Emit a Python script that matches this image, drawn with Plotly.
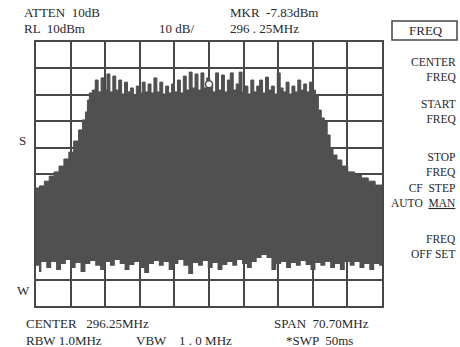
import plotly.graph_objects as go

# ---- instrument settings ----
freq_start = 260.9      # MHz
freq_stop = 331.6       # MHz
freq_per_div = 7.07     # MHz/div
ref_level = 10          # dBm
db_per_div = 10         # dB/div

# ---- upper envelope of the trace (peak) ----
upper_freq = [260.9, 261.6, 262.6, 263.6, 264.6, 265.6, 266.6, 267.6, 268.6, 269.6, 270.4, 271.0, 271.4, 271.8,
              272.4, 273.0, 273.6, 274.2, 274.8, 275.4, 276.0, 276.6, 277.2, 277.8, 278.4, 279.0, 279.6, 280.2,
              280.8, 281.4, 282.0, 282.6, 283.2, 283.8, 284.4, 285.0, 285.6, 286.2, 286.8, 287.4, 288.0, 288.6,
              289.2, 289.8, 290.4, 291.0, 291.6, 292.2, 292.8, 293.4, 294.0, 294.6, 295.2, 295.8, 296.4, 297.0,
              297.6, 298.2, 298.8, 299.4, 300.0, 300.6, 301.2, 301.8, 302.4, 303.0, 303.6, 304.2, 304.8, 305.4,
              306.0, 306.6, 307.2, 307.8, 308.4, 309.0, 309.6, 310.2, 310.8, 311.4, 312.0, 312.6, 313.2, 313.8,
              314.4, 315.0, 315.6, 316.2, 316.8, 317.4, 318.0,
              318.6, 319.2, 319.8, 320.4, 321.0, 321.6, 322.4, 323.4, 324.6, 326.0, 327.4, 328.8, 330.2, 331.6]
upper_dbm = [-45.3, -44.5, -42.7, -40.8, -39.2, -37.0, -34.3, -31.7, -27.5, -23.3, -19.5, -16.5, -12.0, -9.3,
             -8.2, -4.4, -8.9, -3.6, -8.2, -2.1, -8.9, -2.9, -8.2, -4.4,
             -9.7, -5.2, -8.9, -7.4, -10.1, -6.7, -9.3, -5.2, -8.9, -5.9,
             -9.3, -3.6, -8.9, -5.2, -9.7, -6.7, -9.3, -5.9, -8.9, -4.4,
             -9.3, -2.9, -8.2, -1.4, -7.4, -2.1, -8.2, -1.7, -7.4, -3.6,
             -5.9, -8.9, -1.7, -8.2, -2.5, -8.9, -4.4, -1.7, -8.2, -5.9,
             -1.4, -8.9, -6.7, -9.7, -4.4, -8.9, -6.7, -4.4, -9.3, -3.3,
             -8.2, -6.7, -9.7, -1.7, -7.4, -8.9, -5.2, -9.7, -6.7, -8.9,
             -4.4, -8.2, -5.9, -8.9, -5.2, -8.2, -10.5,
             -15.8, -18.8, -20.3, -25.2, -30.2, -32.8, -34.7, -37.0, -39.2, -40.4, -41.5, -42.7, -44.2, -46.1]

# ---- lower envelope of the trace (noise floor minima) ----
lower_freq = [260.9, 261.5, 262.0, 263.0, 264.0, 265.0, 266.0, 267.0, 268.0, 269.0, 270.0, 271.0, 272.0, 273.0,
              274.0, 275.0, 276.0, 277.0, 278.0, 279.0, 280.0, 281.0, 282.0, 283.0, 284.0, 285.0, 286.0, 287.0,
              288.0, 289.0, 290.0, 291.0, 292.0, 293.0, 294.0, 295.0, 296.0, 297.0, 298.0, 299.0, 300.0, 301.0,
              302.0, 303.0, 304.0, 305.0, 306.0, 307.0, 308.0, 309.0, 310.0, 311.0, 312.0, 313.0, 314.0, 315.0,
              316.0, 317.0, 318.0, 319.0, 320.0, 321.0, 322.0, 323.0, 324.0, 325.0, 326.0, 327.0, 328.0, 329.0,
              330.0, 331.0, 331.6]
lower_dbm = [-74.8, -77.1, -73.3, -75.6, -73.3, -76.4, -74.1, -72.6, -75.6, -73.7, -77.1, -74.1, -73.0, -74.8,
             -76.4, -73.3, -74.8, -72.6, -74.1, -76.4, -74.5, -73.3, -75.6, -77.5, -74.1, -73.0, -74.8, -73.3,
             -76.4, -74.1, -72.6, -74.8, -77.9, -73.7, -74.8, -73.0, -75.6, -73.7, -76.4, -74.5, -73.3, -74.8,
             -72.6, -74.1, -75.6, -73.3, -71.8, -70.7, -71.8, -76.4, -74.1, -73.3, -75.6, -73.7, -74.8, -73.0,
             -74.5, -76.4, -73.7, -74.8, -73.3, -75.6, -74.1, -76.4, -73.3, -74.8, -73.3, -75.6, -74.1, -76.4,
             -74.1, -74.8, -73.3]

# ---- marker ----
marker_freq = [296.25]
marker_dbm = [-6.0]

TRACE = "rgb(80,80,80)"
GRID = "rgb(72,72,72)"
TEXT = "rgb(40,40,40)"
FONT = "Liberation Serif"

fig = go.Figure()
fig.add_trace(go.Scatter(x=lower_freq, y=lower_dbm, mode="lines", line=dict(width=0, shape="hv", color=TRACE),
                         hoverinfo="skip", showlegend=False))
fig.add_trace(go.Scatter(x=upper_freq, y=upper_dbm, mode="lines", line=dict(width=1, shape="hv", color=TRACE),
                         fill="tonexty", fillcolor=TRACE, hoverinfo="skip", showlegend=False))
fig.add_trace(go.Scatter(x=marker_freq, y=marker_dbm, mode="markers", hoverinfo="skip",
                         marker=dict(symbol="circle", size=7, color="white", line=dict(color=TRACE, width=1.5)),
                         showlegend=False))

# plot area in pixels: left 36, right 382, top 42, bottom 306
L, R, T, B = 36, 382, 42, 306
W, H = 460, 347


def px(x):
    return (x - L) / (R - L)


def py(y):
    return (B - y) / (B - T)


def label(text, x, y, anchor="left", size=13):
    fig.add_annotation(text=text, x=px(x), y=py(y), xref="paper", yref="paper",
                       xanchor=anchor, yanchor="middle", showarrow=False, align=anchor if anchor != "center" else "center",
                       font=dict(family=FONT, size=size, color=TEXT))


label("ATTEN  10dB", 22, 13)
label("RL  10dBm", 22, 29)
label("10 dB/", 157, 29)
label("MKR  -7.83dBm", 228, 13)
label("296 . 25MHz", 228, 29)
label("FREQ", 426, 31, anchor="center")

# soft-key menu (two-line labels)
menu_size = 11.5
label("CENTER<br>FREQ", 458, 69, anchor="right", size=menu_size)
label("START<br>FREQ", 458, 111.5, anchor="right", size=menu_size)
label("STOP<br>FREQ", 458, 164.5, anchor="right", size=menu_size)
label("CF  STEP<br>AUTO  <u>MAN</u>", 458, 196, anchor="right", size=menu_size)
label("FREQ<br>OFF SET", 458, 246.5, anchor="right", size=menu_size)

label("S", 17, 140)
label("W", 15, 290)
label("CENTER   296.25MHz", 24, 323)
label("SPAN  70.70MHz", 272, 323)
label("RBW 1.0MHz", 24, 340)
label("VBW    1 . 0 MHz", 134, 340)
label("*SWP  50ms", 284, 340)

fig.add_shape(type="rect", xref="paper", yref="paper", x0=px(392), x1=px(457), y0=py(21), y1=py(40),
              line=dict(color="rgb(70,70,70)", width=1.5), fillcolor="rgba(0,0,0,0)")

axis_common = dict(showline=True, mirror=True, linecolor=GRID, linewidth=2, showgrid=True, gridcolor=GRID,
                   gridwidth=2, zeroline=False, showticklabels=False, ticks="", layer="above traces",
                   fixedrange=True)
fig.update_xaxes(range=[freq_start, freq_stop], tick0=freq_start, dtick=freq_per_div, **axis_common)
fig.update_yaxes(range=[ref_level - 10 * db_per_div, ref_level], tick0=ref_level, dtick=db_per_div, **axis_common)

fig.update_layout(width=W, height=H, margin=dict(l=L, r=W - R, t=T, b=H - B),
                  paper_bgcolor="white", plot_bgcolor="white", showlegend=False, hovermode=False)

fig.write_html("out.html", config={"displayModeBar": False},
               post_script="document.body.style.margin='0';document.body.style.overflow='hidden';")
